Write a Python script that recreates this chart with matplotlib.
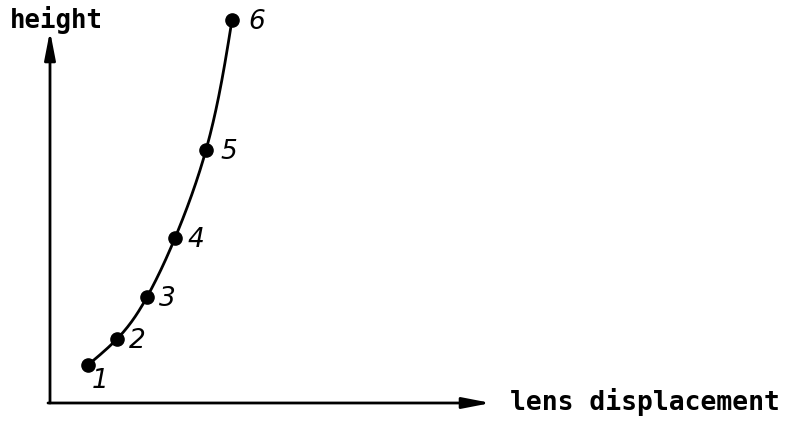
import numpy as np
import matplotlib
matplotlib.use("Agg")
import matplotlib.pyplot as plt

# measured positions (lens displacement, height), arbitrary units
displacement = [3.8, 6.7, 9.7, 12.5, 15.6, 18.2]
height = [3.8, 6.4, 10.6, 16.5, 25.3, 38.3]
point_labels = ["1", "2", "3", "4", "5", "6"]
label_offsets = [(0.4, -1.6), (1.2, -0.2), (1.2, -0.2), (1.3, -0.2), (1.4, -0.2), (1.6, -0.2)]


def natural_spline(t, v, n=200):
    # natural cubic spline of v over t, evaluated on a fine grid
    t = np.asarray(t, float)
    v = np.asarray(v, float)
    k = len(t)
    h = np.diff(t)
    A = np.zeros((k, k))
    r = np.zeros(k)
    A[0, 0] = A[-1, -1] = 1
    for i in range(1, k - 1):
        A[i, i - 1] = h[i - 1]
        A[i, i] = 2 * (h[i - 1] + h[i])
        A[i, i + 1] = h[i]
        r[i] = 6 * ((v[i + 1] - v[i]) / h[i] - (v[i] - v[i - 1]) / h[i - 1])
    m = np.linalg.solve(A, r)
    tt = np.linspace(t[0], t[-1], n)
    idx = np.clip(np.searchsorted(t, tt) - 1, 0, k - 2)
    a = t[idx + 1] - tt
    b = tt - t[idx]
    hi = h[idx]
    vv = (m[idx] * a**3 + m[idx + 1] * b**3) / (6 * hi) \
        + (v[idx] / hi - m[idx] * hi / 6) * a \
        + (v[idx + 1] / hi - m[idx + 1] * hi / 6) * b
    return vv, tt


fig = plt.figure(figsize=(7.99, 4.21), dpi=100)
ax = fig.add_axes([0, 0, 1, 1])
ax.set_xlim(-5.0, 74.9)
ax.set_ylim(-1.8, 40.3)
ax.axis("off")

# axes arrows
arrow = dict(arrowstyle="-|>,head_length=1.7,head_width=0.33", color="black",
             lw=2.0, shrinkA=0, shrinkB=0)
ax.annotate("", xy=(0, 37.2), xytext=(0, 0), arrowprops=arrow)
ax.annotate("", xy=(44.1, 0), xytext=(-0.2, 0), arrowprops=arrow)

ax.text(-4.0, 38.3, "height", family="DejaVu Sans Mono", fontweight="bold",
        fontsize=18.5, va="center", ha="left")
ax.text(46.0, 0.1, "lens displacement", family="DejaVu Sans Mono",
        fontweight="bold", fontsize=19, va="center", ha="left")

# smooth curve through the points
cx, cy = natural_spline(height, displacement)
ax.plot(cx, cy, color="black", lw=2.0, solid_capstyle="round")
ax.plot(displacement, height, "o", color="black", markersize=9.5)

for x, y, lab, (dx, dy) in zip(displacement, height, point_labels, label_offsets):
    ax.text(x + dx, y + dy, lab, fontsize=19, style="italic",
            va="center", ha="left")

fig.savefig("out.png", dpi=100)
